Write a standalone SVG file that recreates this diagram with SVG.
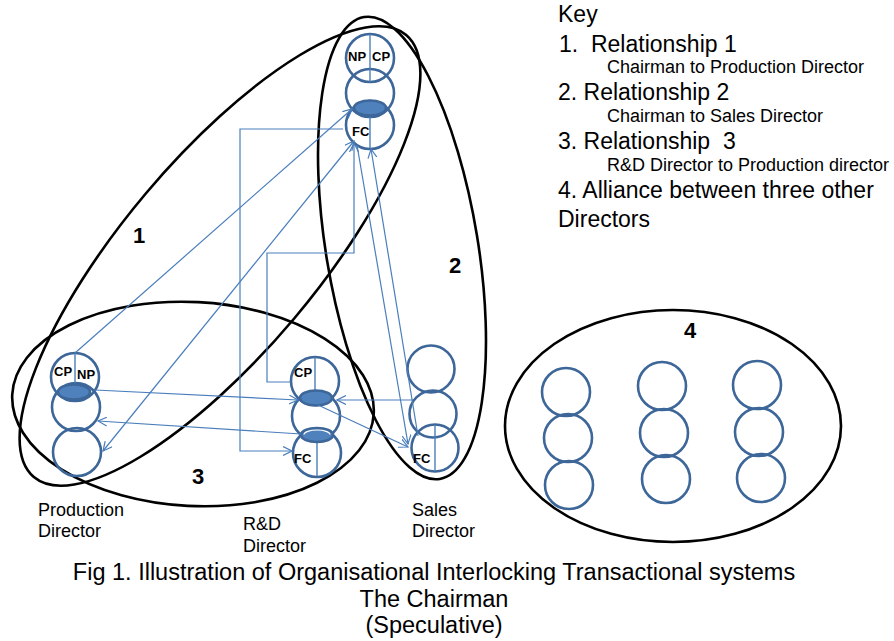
<svg xmlns="http://www.w3.org/2000/svg" width="894" height="641" viewBox="0 0 894 641">
<defs>
<marker id="arr" viewBox="0 0 10 10" refX="9" refY="5" markerWidth="10" markerHeight="10" markerUnits="userSpaceOnUse" orient="auto-start-reverse">
<path d="M0,0.5 L9,5 L0,9.5" fill="none" stroke="#4a7ebb" stroke-width="1.2"/>
</marker>
<style>
.grp{fill:none;stroke:#000;stroke-width:2.6}
.c{fill:none;stroke:#3d6699;stroke-width:2.6}
.fe{fill:#4f81bd;stroke:#3d6699;stroke-width:2.6}
.dv{stroke:#4a7ebb;stroke-width:1.4}
.ln{fill:none;stroke:#4a7ebb;stroke-width:1.2}
.lb{font-family:"Liberation Sans",Arial,sans-serif;font-weight:bold;font-size:13px;fill:#000}
.num{font-family:"Liberation Sans",Arial,sans-serif;font-weight:bold;font-size:22px;fill:#000;text-anchor:middle}
.k{font-family:"Liberation Sans",Arial,sans-serif;font-size:23px;fill:#000;white-space:pre}
.ks{font-family:"Liberation Sans",Arial,sans-serif;font-size:18px;fill:#000}
.t{font-family:"Liberation Sans",Arial,sans-serif;font-size:18px;fill:#000}
.cap{font-family:"Liberation Sans",Arial,sans-serif;font-size:23.5px;fill:#000;text-anchor:middle}
</style>
</defs>
<rect width="894" height="641" fill="#fff"/>

<g id="groups">
<ellipse id="group1" class="grp" cx="220" cy="256" rx="289" ry="97" transform="rotate(-49.9 220 256)"/>
<ellipse id="group2" class="grp" cx="402" cy="248" rx="76" ry="234" transform="rotate(-9.3 402 248)"/>
<ellipse id="group3" class="grp" cx="193" cy="404" rx="181" ry="102" transform="rotate(3 193 404)"/>
<ellipse id="group4" class="grp" cx="673" cy="426" rx="168" ry="116"/>
</g>

<g id="chairman">
<circle class="c" cx="370" cy="58" r="24"/>
<circle class="c" cx="370" cy="93" r="24"/>
<circle class="c" cx="370" cy="125" r="24"/>
<line class="dv" x1="370" y1="34" x2="370" y2="82"/>
<line class="dv" x1="370" y1="115" x2="370" y2="148"/>
<ellipse class="fe" cx="370" cy="108" rx="16" ry="7.5"/>
<text class="lb" x="348" y="61">NP</text>
<text class="lb" x="372" y="61">CP</text>
<text class="lb" x="352" y="136">FC</text>
</g>

<g id="production">
<circle class="c" cx="75" cy="377" r="24"/>
<circle class="c" cx="76" cy="407" r="24"/>
<circle class="c" cx="77" cy="452" r="24"/>
<line class="dv" x1="75" y1="353" x2="75" y2="385"/>
<ellipse class="fe" cx="74" cy="392" rx="16" ry="7.5"/>
<text class="lb" x="54" y="376">CP</text>
<text class="lb" x="77" y="379">NP</text>
</g>

<g id="rnd">
<circle class="c" cx="315" cy="381" r="24"/>
<circle class="c" cx="316" cy="416" r="24"/>
<circle class="c" cx="317" cy="453" r="24"/>
<line class="dv" x1="315" y1="357" x2="315" y2="392"/>
<line class="dv" x1="317" y1="437" x2="317" y2="476"/>
<ellipse class="fe" cx="316" cy="398" rx="16" ry="7.5"/>
<ellipse cx="317" cy="435" rx="16" ry="7" fill="#4f81bd" stroke="#3d6699" stroke-width="2.6"/>
<path d="M304,434.5 A13,4.5 0 0 1 330,434.5" fill="none" stroke="#fff" stroke-width="1.2"/>
<text class="lb" x="294" y="377">CP</text>
<text class="lb" x="294" y="463">FC</text>
</g>

<g id="sales">
<circle class="c" cx="431" cy="369" r="23.5"/>
<circle class="c" cx="433" cy="414" r="23.5"/>
<circle class="c" cx="435" cy="448" r="23.5"/>
<line class="dv" x1="435" y1="425" x2="435" y2="471"/>
<text class="lb" x="413" y="463">FC</text>
</g>

<g id="alliance">
<circle class="c" cx="566" cy="392" r="24"/>
<circle class="c" cx="568" cy="438" r="24"/>
<circle class="c" cx="569" cy="485" r="24"/>
<circle class="c" cx="662" cy="386" r="24"/>
<circle class="c" cx="664" cy="433" r="24"/>
<circle class="c" cx="666" cy="479" r="24"/>
<circle class="c" cx="757" cy="385" r="24"/>
<circle class="c" cx="759" cy="432" r="24"/>
<circle class="c" cx="761" cy="478" r="24"/>
</g>

<g id="connectors">
<path class="ln" d="M75,353 L352,109" marker-end="url(#arr)"/>
<path class="ln" d="M103,451 L354,141" marker-start="url(#arr)" marker-end="url(#arr)"/>
<path class="ln" d="M343,129 L240,129 L240,451 L292,451" marker-end="url(#arr)"/>
<path class="ln" d="M291,382 L267,382 L267,253 L354,253 L354,143" marker-end="url(#arr)"/>
<path class="ln" d="M357,145 L408,444" marker-end="url(#arr)"/>
<path class="ln" d="M418,436 L371,149" marker-end="url(#arr)"/>
<path class="ln" d="M95,390 L298,400" marker-end="url(#arr)"/>
<path class="ln" d="M301,434 L98,421" marker-end="url(#arr)"/>
<path class="ln" d="M413,400 L337,400" marker-end="url(#arr)"/>
<path class="ln" d="M318,405 L408,447" marker-end="url(#arr)"/>
</g>

<g id="group-labels">
<text class="num" x="139" y="243">1</text>
<text class="num" x="455" y="273">2</text>
<text class="num" x="198" y="484">3</text>
<text class="num" x="690" y="338">4</text>
</g>

<g id="key">
<text class="k" x="558" y="22">Key</text>
<text class="k" x="559" y="52">1.  Relationship 1</text>
<text class="ks" x="607" y="73">Chairman to Production Director</text>
<text class="k" x="558" y="100">2. Relationship 2</text>
<text class="ks" x="607" y="122">Chairman to Sales Director</text>
<text class="k" x="558" y="149">3. Relationship  3</text>
<text class="ks" x="607" y="171">R&amp;D Director to Production director</text>
<text class="k" x="558" y="198">4. Alliance between three other</text>
<text class="k" x="558" y="227">Directors</text>
</g>

<g id="director-labels">
<text class="t" x="38" y="516">Production</text>
<text class="t" x="38" y="537">Director</text>
<text class="t" x="243" y="530">R&amp;D</text>
<text class="t" x="243" y="552">Director</text>
<text class="t" x="412" y="516">Sales</text>
<text class="t" x="412" y="537">Director</text>
</g>

<g id="caption">
<text class="cap" x="434" y="580">Fig 1. Illustration of Organisational Interlocking Transactional systems</text>
<text class="cap" x="434" y="607">The Chairman</text>
<text class="cap" x="434" y="633">(Speculative)</text>
</g>
</svg>
